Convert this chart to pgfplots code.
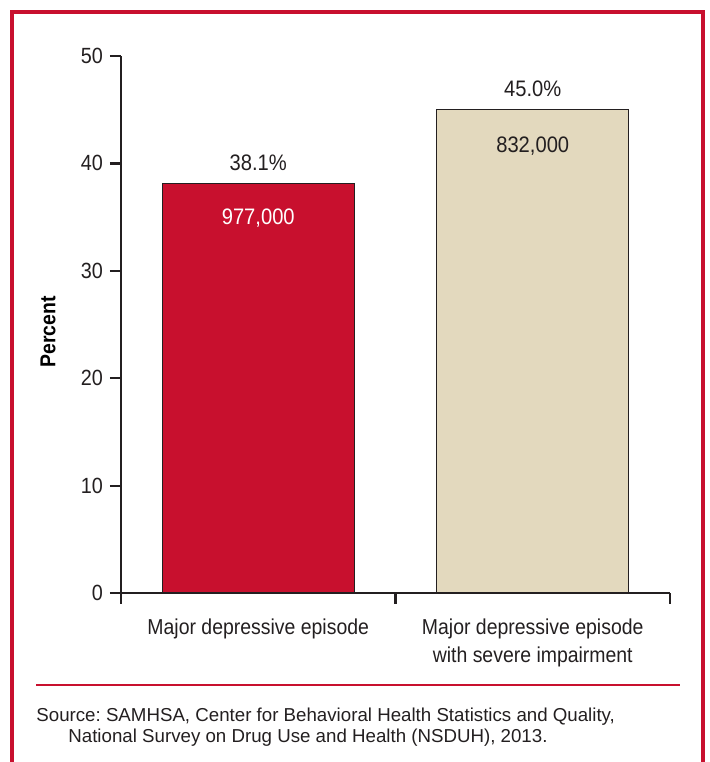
\documentclass[border=0pt]{standalone}
\usepackage{fontspec}
\setmainfont{Liberation Sans}
\newfontfamily\cond[FakeStretch=0.9]{Liberation Sans}
\usepackage{pgfplots}
\pgfplotsset{compat=1.18}
\definecolor{cred}{HTML}{C8102E}
\definecolor{ctan}{HTML}{E3D9BE}
\definecolor{ctext}{HTML}{231F20}
\frenchspacing

\begin{document}
\begin{tikzpicture}
% 1 px of the reference = 0.5pt
\path[use as bounding box] (0,0) rectangle (354.5pt,381pt);

% frame
\draw[cred, line width=1.8pt] (6pt,0) -- (6pt,375pt) -- (351.5pt,375pt) -- (351.5pt,0);
\draw[cred, line width=1pt] (18pt,38.5pt) -- (340pt,38.5pt);

\begin{axis}[%
    at={(60.5pt,84.5pt)}, anchor=south west,
    scale only axis,
    width=274.5pt, height=268.5pt,
    xmin=0, xmax=2, ymin=0, ymax=50,
    axis x line*=bottom, axis y line*=left,
    axis line style={ctext, line width=1.1pt},
    tick style={ctext, line width=1.1pt},
    tick align=outside,
    major tick length=5.5pt,
    ytick={0,10,...,50},
    xtick={0,1,2},
    x tick label as interval,
    xticklabels={Major depressive episode, {Major depressive episode\\with severe impairment}},
    xticklabel style={align=center, font=\fontsize{10.8}{14}\cond, text=ctext, anchor=north, yshift=-4pt},
    yticklabel style={font=\fontsize{11}{13}\cond, text=ctext},
    /pgf/number format/assume math mode=true,
    ylabel={Percent},
    ylabel style={at={(axis description cs:-0.133,0.486)}, anchor=center, font=\fontsize{10.8}{13}\cond\bfseries, text=black},
    clip=false,
    ]

% bars with percent above
\addplot[ybar, bar width=0.7, bar shift=0pt, fill=cred, draw=ctext, line width=0.5pt,
    nodes near coords={\pgfmathprintnumber[fixed,fixed zerofill,precision=1]{\pgfplotspointmeta}\%},
    every node near coord/.append style={anchor=base, yshift=6.75pt, font=\fontsize{11.2}{13}\cond, text=ctext}]
    coordinates {(0.5,38.1)};
\addplot[ybar, bar width=0.7, bar shift=0pt, fill=ctan, draw=ctext, line width=0.5pt,
    nodes near coords={\pgfmathprintnumber[fixed,fixed zerofill,precision=1]{\pgfplotspointmeta}\%},
    every node near coord/.append style={anchor=base, yshift=6.75pt, font=\fontsize{11.2}{13}\cond, text=ctext}]
    coordinates {(1.5,45.0)};

% counts inside the bars
\addplot[ybar, bar width=0.7, bar shift=0pt, draw=none, fill=none, point meta=explicit,
    nodes near coords={\pgfmathprintnumber[fixed,precision=0,1000 sep={,}]{\pgfplotspointmeta}},
    every node near coord/.append style={anchor=base, yshift=-20.5pt, font=\fontsize{11.2}{13}\cond, text=white}]
    coordinates {(0.5,38.1) [977000]};
\addplot[ybar, bar width=0.7, bar shift=0pt, draw=none, fill=none, point meta=explicit,
    nodes near coords={\pgfmathprintnumber[fixed,precision=0,1000 sep={,}]{\pgfplotspointmeta}},
    every node near coord/.append style={anchor=base, yshift=-21.5pt, font=\fontsize{11.2}{13}\cond, text=ctext}]
    coordinates {(1.5,45.0) [832000]};
\end{axis}

% source note
\node[anchor=base west, inner sep=0, text=ctext, font=\fontsize{9.35}{11}\selectfont] at (18pt,20pt)
    {Source: SAMHSA, Center for Behavioral Health Statistics and Quality,};
\node[anchor=base west, inner sep=0, text=ctext, font=\fontsize{9.35}{11}\selectfont] at (34pt,9.5pt)
    {National Survey on Drug Use and Health (NSDUH), 2013.};
\end{tikzpicture}
\end{document}
